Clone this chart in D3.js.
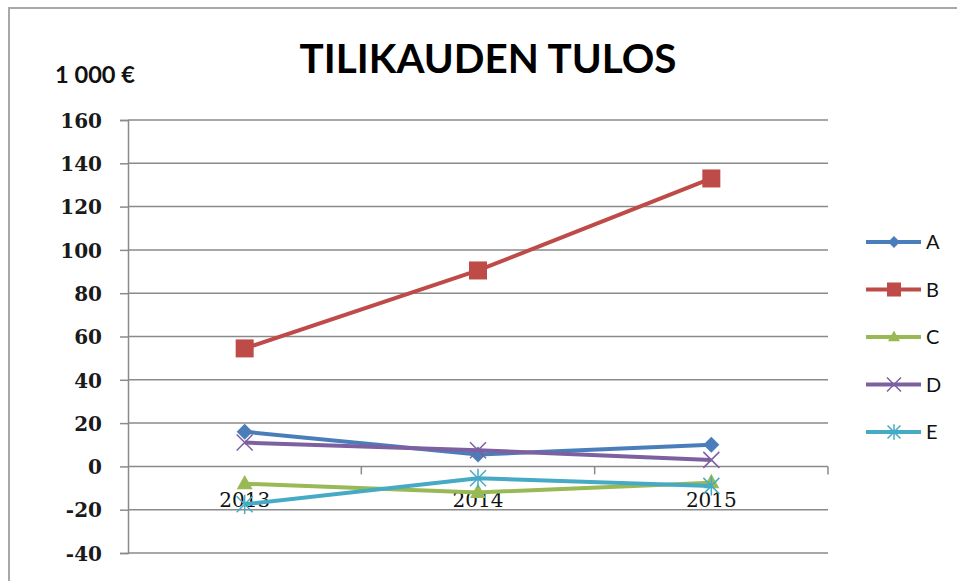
<!DOCTYPE html>
<html lang="fi">
<head>
  <meta charset="UTF-8">
  <title>Tilikauden tulos</title>
  <script src="https://d3js.org/d3.v7.min.js"></script>
  <style>
    body { margin: 0; background: #fff; }
    svg { display: block; }
  </style>
</head>
<body>
  <div id="viz"></div>
  <script>
    const years = ["2013", "2014", "2015"];
    const seriesNames = ["A", "B", "C", "D", "E"];
    const valuesA = [16, 5.5, 10];
    const valuesB = [54.5, 90.5, 133];
    const valuesC = [-8, -12, -7.5];
    const valuesD = [11, 7.5, 3];
    const valuesE = [-17.5, -5.5, -9];
    const yTicks = [-40, -20, 0, 20, 40, 60, 80, 100, 120, 140, 160];

    const colors = ["#4a7ebb", "#be4b48", "#98b954", "#7d60a0", "#46aac5"];
    const markers = ["diamond", "square", "triangle", "cross", "star"];
    const allValues = [valuesA, valuesB, valuesC, valuesD, valuesE];

    const W = 957, H = 581;
    const svg = d3.select("#viz").append("svg").attr("width", W).attr("height", H);

    // chart border (top and left visible)
    svg.append("path")
      .attr("d", `M9,${H} V8 H${W}`)
      .attr("fill", "none").attr("stroke", "#a8a8a8").attr("stroke-width", 2);

    const x = d3.scaleBand().domain(years).range([128, 828]);
    const y = d3.scaleLinear().domain([-40, 160]).range([553, 120]);

    // gridlines + y axis
    const yAxis = svg.append("g")
      .attr("transform", "translate(128,0)")
      .call(d3.axisLeft(y).tickValues(yTicks).tickSize(8).tickPadding(18).tickFormat(d => String(d)));
    yAxis.select(".domain").attr("stroke", "#8a8a8a").attr("stroke-width", 1.5);
    yAxis.selectAll(".tick line").attr("stroke", "#8a8a8a").attr("stroke-width", 1.5);
    yAxis.selectAll(".tick text")
      .attr("font-family", "'DejaVu Serif', serif").attr("font-size", 20)
      .attr("font-weight", "bold")
      .attr("fill", "#1a1a1a").attr("dy", "0.36em");

    svg.append("g").selectAll("line")
      .data(yTicks.filter(d => d !== 0))
      .join("line")
      .attr("x1", 128).attr("x2", 828)
      .attr("y1", d => y(d)).attr("y2", d => y(d))
      .attr("stroke", "#8a8a8a").attr("stroke-width", 1.5);

    // category axis at zero
    const xAxis = svg.append("g")
      .attr("transform", `translate(0,${y(0)})`)
      .call(d3.axisBottom(x).tickSize(0).tickPadding(26));
    xAxis.select(".domain").remove();
    xAxis.selectAll(".tick text")
      .attr("font-family", "'DejaVu Serif', serif").attr("font-size", 20).attr("fill", "#111");
    svg.append("line")
      .attr("x1", 128).attr("x2", 828).attr("y1", y(0)).attr("y2", y(0))
      .attr("stroke", "#8a8a8a").attr("stroke-width", 1.5);
    svg.append("g").selectAll("line")
      .data(years)
      .join("line")
      .attr("x1", d => x(d) + x.bandwidth()).attr("x2", d => x(d) + x.bandwidth())
      .attr("y1", y(0)).attr("y2", y(0) + 8)
      .attr("stroke", "#8a8a8a").attr("stroke-width", 1.5);

    function drawMarker(g, type, color, s) {
      if (type === "diamond") {
        g.append("path").attr("d", `M0,${-s} L${s},0 L0,${s} L${-s},0Z`).attr("fill", color);
      } else if (type === "square") {
        g.append("rect").attr("x", -s).attr("y", -s).attr("width", 2 * s).attr("height", 2 * s).attr("fill", color);
      } else if (type === "triangle") {
        g.append("path").attr("d", `M0,${-s * 1.1} L${s},${s * 0.7} L${-s},${s * 0.7}Z`).attr("fill", color);
      } else if (type === "cross") {
        g.append("path").attr("d", `M${-s},${-s} L${s},${s} M${s},${-s} L${-s},${s}`)
          .attr("stroke", color).attr("stroke-width", 1.5).attr("fill", "none");
      } else if (type === "star") {
        g.append("path").attr("d", `M${-s},${-s} L${s},${s} M${s},${-s} L${-s},${s} M0,${-s * 1.2} V${s * 1.2}`)
          .attr("stroke", color).attr("stroke-width", 1.5).attr("fill", "none");
      }
    }

    const line = d3.line().x((d, i) => x(years[i]) + x.bandwidth() / 2).y(d => y(d));
    const markerSize = [8, 9, 8, 8, 8];

    allValues.forEach((vals, si) => {
      svg.append("path")
        .datum(vals)
        .attr("fill", "none")
        .attr("stroke", colors[si])
        .attr("stroke-width", 4)
        .attr("stroke-linejoin", "round")
        .attr("d", line);
      vals.forEach((v, i) => {
        const g = svg.append("g")
          .attr("transform", `translate(${x(years[i]) + x.bandwidth() / 2},${y(v)})`);
        drawMarker(g, markers[si], colors[si], markerSize[si]);
      });
    });

    // legend
    const legendSize = [6, 7, 6, 7, 6.5];
    const legend = svg.append("g");
    seriesNames.forEach((name, si) => {
      const ly = 242 + si * 47.5;
      legend.append("line")
        .attr("x1", 866).attr("x2", 921).attr("y1", ly).attr("y2", ly)
        .attr("stroke", colors[si]).attr("stroke-width", 4);
      const g = legend.append("g").attr("transform", `translate(894,${ly})`);
      drawMarker(g, markers[si], colors[si], legendSize[si]);
      legend.append("text")
        .attr("x", 926).attr("y", ly).attr("dy", "0.36em")
        .attr("font-family", "Lato, sans-serif").attr("font-size", 20)
        .attr("fill", "#111")
        .text(name);
    });

    // title and unit label
    svg.append("text")
      .attr("x", 488).attr("y", 73)
      .attr("text-anchor", "middle")
      .attr("font-family", "Lato, sans-serif").attr("font-weight", "bold")
      .attr("font-size", 41)
      .attr("textLength", 377).attr("lengthAdjust", "spacingAndGlyphs")
      .attr("fill", "#000")
      .text("TILIKAUDEN TULOS");

    svg.append("text")
      .attr("x", 55).attr("y", 83)
      .attr("font-family", "Lato, sans-serif").attr("font-weight", "bold")
      .attr("font-size", 22)
      .attr("textLength", 80).attr("lengthAdjust", "spacingAndGlyphs")
      .attr("fill", "#111")
      .text("1 000 €");
  </script>
</body>
</html>
